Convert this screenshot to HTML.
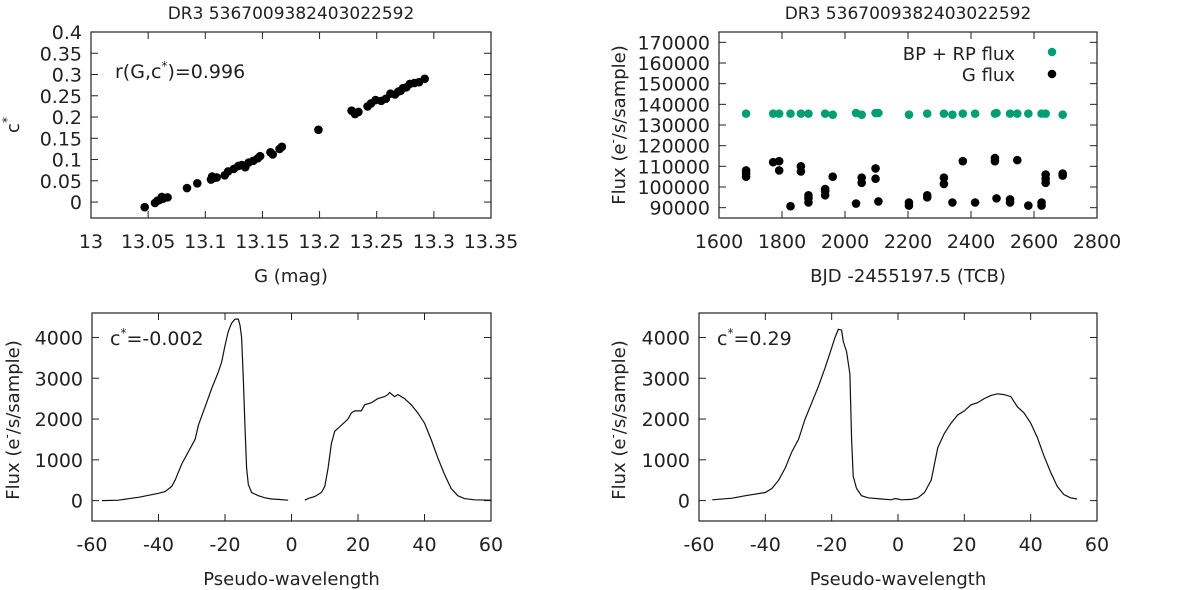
<!DOCTYPE html>
<html><head><meta charset="utf-8"><style>
body{margin:0;background:#fff;}
svg{display:block;font-family:"DejaVu Sans","Liberation Sans",sans-serif;}
text{fill:#222;}
</style></head><body>
<svg id="c" width="1200" height="590"></svg>
<script>
// Panel A: G vs c*
const aG=[13.047,13.056,13.058,13.060,13.062,13.063,13.067,13.084,13.093,13.105,13.106,13.108,13.110,13.117,13.120,13.125,13.129,13.132,13.135,13.138,13.142,13.146,13.148,13.157,13.159,13.165,13.167,13.199,13.228,13.231,13.234,13.242,13.245,13.249,13.254,13.258,13.262,13.266,13.269,13.271,13.273,13.276,13.279,13.283,13.287,13.292];
const aC=[-0.012,-0.002,0.003,0.005,0.012,0.008,0.011,0.033,0.044,0.053,0.06,0.057,0.058,0.063,0.072,0.078,0.085,0.087,0.082,0.093,0.097,0.103,0.108,0.117,0.112,0.125,0.13,0.17,0.215,0.207,0.212,0.225,0.232,0.24,0.238,0.243,0.255,0.253,0.26,0.262,0.268,0.27,0.278,0.28,0.282,0.29];
const aXT=["13","13.05","13.1","13.15","13.2","13.25","13.3","13.35"];
const aYT=["0","0.05","0.1","0.15","0.2","0.25","0.3","0.35","0.4"];
// Panel B: light curves
const bpT=[1686,1772,1791,1827,1860,1884,1937,1961,2035,2053,2097,2106,2203,2261,2314,2341,2374,2413,2476,2481,2524,2547,2582,2624,2637,2691];
const bpF=[135500,135500,135500,135500,135500,135500,135500,135000,135800,135000,135800,135800,135000,135500,135500,135000,135500,135500,135500,135800,135500,135500,135500,135500,135500,135000];
const gT=[1686,1686,1686,1772,1791,1791,1827,1860,1860,1884,1884,1884,1937,1937,1937,1961,2035,2053,2053,2097,2097,2106,2203,2203,2261,2261,2314,2314,2341,2374,2413,2476,2476,2481,2524,2524,2547,2582,2624,2624,2637,2637,2637,2691,2691];
const gF=[105000,106500,108000,112000,112500,108000,90700,110000,107500,92500,94500,96000,96000,98000,99000,105000,92000,102000,104500,104000,109000,93000,91000,92500,95000,96000,101500,104500,92500,112500,92500,112500,114000,94500,92500,94000,113000,91000,91000,92500,102000,104000,106000,105500,106500];
const bXT=["1600","1800","2000","2200","2400","2600","2800"];
const bYT=["90000","100000","110000","120000","130000","140000","150000","160000","170000"];
// Panel C: spectrum c*=-0.002
const c1X=[-57,-52,-48,-46,-43,-40,-38,-36,-35,-33,-31,-29,-28,-26,-24,-22,-21,-20,-19,-18,-17,-16,-15.5,-15,-14.5,-14,-13.5,-13,-12,-10,-8,-6,-4,-1];
const c1Y=[0,10,60,80,130,180,220,350,500,900,1200,1500,1850,2300,2750,3150,3400,3800,4150,4350,4450,4450,4300,4000,3000,1800,800,400,200,120,70,40,30,10];
const c2X=[4,5,7,9,10,11,12,13,15,17,18,19,21,22,24,26,28,29,29.5,31,32,34,36,38,40,42,44,46,48,50,52,55,60];
const c2Y=[10,50,100,200,350,800,1400,1700,1850,2000,2150,2200,2200,2350,2400,2500,2550,2600,2650,2550,2600,2500,2350,2150,1900,1500,1050,650,300,120,50,20,10];
// Panel D: spectrum c*=0.29
const dX=[-56,-50,-46,-40,-38,-36,-34,-32,-30,-28,-26,-24,-22,-20,-19,-18,-17,-16.5,-15.5,-14.5,-14,-13.5,-12.5,-11,-9,-5,-2,-1,0,1,4,6,8,10,11,12,14,16,18,20,22,24,26,28,30,32,34,36,38,40,42,44,46,48,50,52,54];
const dY=[20,60,120,200,300,500,800,1200,1500,2000,2400,2800,3250,3750,4000,4200,4180,3900,3650,3100,1500,600,300,120,70,40,20,50,40,20,30,70,200,500,900,1300,1650,1900,2100,2200,2350,2400,2500,2580,2620,2600,2550,2300,2150,1900,1550,1100,700,350,150,70,40];
const sXT=["-60","-40","-20","0","20","40","60"];
const sYT=["0","1000","2000","3000","4000"];

const svg=document.getElementById('c');
const NS='http://www.w3.org/2000/svg';
const FS=19;
function mk(tag,attrs,parent,txt){const e=document.createElementNS(NS,tag);for(const k in attrs)e.setAttribute(k,attrs[k]);if(txt!==undefined)e.textContent=txt;(parent||svg).appendChild(e);return e;}
function lin(d0,d1,r0,r1){return v=>r0+(v-d0)/(d1-d0)*(r1-r0);}

function panel(name,L,R,T,B,xs,ys,xt,yt,xl,yl,title){
  const g=mk('g',{});
  
  
  const f=mk('rect',{x:L,y:T,width:R-L,height:B-T,fill:'none',stroke:'#222','stroke-width':1.2},g);
  
  
  xt.forEach(t=>{const x=xs(+t);
    mk('line',{x1:x,x2:x,y1:B,y2:B-7,stroke:'#222'},g);mk('line',{x1:x,x2:x,y1:T,y2:T+7,stroke:'#222'},g);
    const e=mk('text',{x:x,y:B+30,'text-anchor':'middle','font-size':FS},g,t);
    
    });
  yt.forEach(t=>{const y=ys(+t);
    mk('line',{x1:L,x2:L+7,y1:y,y2:y,stroke:'#222'},g);mk('line',{x1:R,x2:R-7,y1:y,y2:y,stroke:'#222'},g);
    const e=mk('text',{x:L-9,y:y+7,'text-anchor':'end','font-size':FS},g,t);
    
    });
  const xe=mk('text',{x:(L+R)/2,y:B+64,'text-anchor':'middle','font-size':FS-1},g);xe.innerHTML=xl;
  
  
  const ye=mk('text',{x:0,y:0,'text-anchor':'middle','font-size':FS-1,transform:yl[1]},g);ye.innerHTML=yl[0];
  
  
  if(title){const te=mk('text',{x:(L+R)/2,y:19,'text-anchor':'middle','font-size':17},g,title);
    
    }
  return g;
}
// A
{const xs=lin(13,13.35,91,491),ys=lin(-0.0375,0.4,218,32);
 const g=panel('scatter-g-cstar',91,491,32,218,xs,ys,aXT,aYT,'G (mag)',['c<tspan font-size="12" dy="-8">*</tspan>','translate(19,125) rotate(-90)'],'DR3 5367009382403022592');
 aG.forEach((v,i)=>{const c=mk('circle',{cx:xs(v),cy:ys(aC[i]),r:4.3,fill:'#000'},g);
   
   });
 const t=mk('text',{x:115,y:78,'font-size':FS},g);t.innerHTML='r(G,c<tspan font-size="12" dy="-8">*</tspan><tspan dy="8">)=0.996</tspan>';
 
 }
// B
{const xs=lin(1600,2800,719,1097),ys=lin(85000,175000,218,32);
 const g=panel('light-curve',719,1097,32,218,xs,ys,bXT,bYT,'BJD -2455197.5 (TCB)',['Flux (e<tspan font-size="12" dy="-8">-</tspan><tspan dy="8">/s/sample)</tspan>','translate(625,125) rotate(-90)'],'DR3 5367009382403022592');
 bpT.forEach((v,i)=>{const c=mk('circle',{cx:xs(v),cy:ys(bpF[i]),r:4.3,fill:'#009e73'},g);
   
   });
 gT.forEach((v,i)=>{const c=mk('circle',{cx:xs(v),cy:ys(gF[i]),r:4.3,fill:'#000'},g);
   
   });
 const l1=mk('text',{x:1015,y:60,'text-anchor':'end','font-size':FS-1},g,'BP + RP flux');
 
 
 mk('circle',{cx:1052,cy:52,r:4.3,fill:'#009e73'},g);
 const l2=mk('text',{x:1015,y:81,'text-anchor':'end','font-size':FS-1},g,'G flux');
 
 
 mk('circle',{cx:1052,cy:74,r:4.3,fill:'#000'},g);}
function spec(name,L,R,segs,label,ylx){
 const xs=lin(-60,60,L,R),ys=lin(-500,4600,521,313);
 const g=panel(name,L,R,313,521,xs,ys,sXT,sYT,'Pseudo-wavelength',['Flux (e<tspan font-size="12" dy="-8">-</tspan><tspan dy="8">/s/sample)</tspan>','translate('+ylx+',420) rotate(-90)'],null);
 segs.forEach(([X,Y])=>{const p=mk('path',{d:X.map((v,i)=>(i?'L':'M')+xs(v).toFixed(1)+','+ys(Y[i]).toFixed(1)).join(''),fill:'none',stroke:'#111','stroke-width':1.2},g);
   
   });
 const t=mk('text',{x:L+18,y:345,'font-size':FS},g);t.innerHTML=label;
 
 }
spec('spectrum-low-cstar',92,491,[[c1X,c1Y],[c2X,c2Y]],'c<tspan font-size="12" dy="-8">*</tspan><tspan dy="8">=-0.002</tspan>',19);
spec('spectrum-high-cstar',699,1097,[[dX,dY]],'c<tspan font-size="12" dy="-8">*</tspan><tspan dy="8">=0.29</tspan>',625);
</script>
</body></html>
